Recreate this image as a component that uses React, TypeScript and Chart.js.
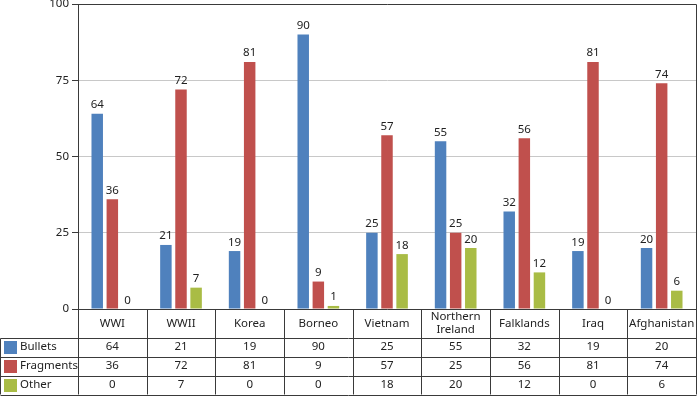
import React, { useEffect, useRef } from 'react';
import { Chart, registerables } from 'chart.js';
Chart.register(...registerables);

const categories: (string | string[])[] = ['WWI', 'WWII', 'Korea', 'Borneo', 'Vietnam', ['Northern', 'Ireland'], 'Falklands', 'Iraq', 'Afghanistan'];
const bullets = [64, 21, 19, 90, 25, 55, 32, 19, 20];
const fragments = [36, 72, 81, 9, 57, 25, 56, 81, 74];
const other = [0, 7, 0, 1, 18, 20, 12, 0, 6];
const tableBullets = [64, 21, 19, 90, 25, 55, 32, 19, 20];
const tableFragments = [36, 72, 81, 9, 57, 25, 56, 81, 74];
const tableOther = [0, 7, 0, 0, 18, 20, 12, 0, 6];
const seriesNames = ['Bullets', 'Fragments', 'Other'];
const colors = ['#4F81BD', '#C0504D', '#A9BC45'];
const yTicks = [0, 25, 50, 75, 100];

const FONT = '"Noto Sans", "DejaVu Sans", sans-serif';
const FS = 11.5;
const LINE = '#3a3a3a';

const overlayPlugin = {
  id: 'overlay',
  afterDraw(chart: any) {
    const ctx = chart.ctx as CanvasRenderingContext2D;
    const area = chart.chartArea;
    const xs = chart.scales.x;
    const n = categories.length;
    const colW = (area.right - area.left) / n;
    const H = chart.height;
    const top = Math.round(area.top) + 0.5;
    const right = Math.round(area.right) + 0.5;
    const bottom = Math.round(area.bottom) + 0.5;
    const headerBottom = bottom + 28;
    const tableBottom = H - 1.5;
    const rowH = (tableBottom - headerBottom) / 3;
    ctx.save();
    // data labels
    ctx.font = `${FS}px ${FONT}`;
    ctx.fillStyle = '#222';
    ctx.textAlign = 'center';
    ctx.textBaseline = 'bottom';
    chart.data.datasets.forEach((ds: any, di: number) => {
      const meta = chart.getDatasetMeta(di);
      meta.data.forEach((el: any, i: number) => {
        ctx.fillText(String(ds.data[i]), el.x, el.y - 3);
      });
    });
    // borders
    ctx.strokeStyle = LINE;
    ctx.lineWidth = 1;
    ctx.beginPath();
    ctx.moveTo(Math.round(area.left) + 0.5, top);
    ctx.lineTo(right, top);
    ctx.lineTo(right, tableBottom);
    // table horizontal lines
    ctx.moveTo(Math.round(area.left), bottom);
    ctx.lineTo(right, bottom);
    for (let r = 0; r <= 3; r++) {
      const y = Math.round(headerBottom + r * rowH) + 0.5;
      ctx.moveTo(0.5, y);
      ctx.lineTo(right, y);
    }
    ctx.moveTo(0.5, Math.round(headerBottom) + 0.5);
    ctx.lineTo(0.5, tableBottom);
    for (let i = 0; i < n; i++) {
      const bx = Math.round(area.left + i * colW) + 0.5;
      ctx.moveTo(bx, bottom);
      ctx.lineTo(bx, tableBottom);
    }
    ctx.stroke();
    // header text
    ctx.fillStyle = '#222';
    ctx.textBaseline = 'middle';
    ctx.textAlign = 'center';
    categories.forEach((c, i) => {
      const cx = xs.getPixelForValue(i);
      const lines = Array.isArray(c) ? c : [c];
      const lh = 13;
      const cy = (bottom + headerBottom) / 2 - ((lines.length - 1) * lh) / 2;
      lines.forEach((t, k) => ctx.fillText(t, cx, cy + k * lh));
    });
    const tables = [tableBullets, tableFragments, tableOther];
    tables.forEach((row, r) => {
      const cy = headerBottom + (r + 0.5) * rowH;
      row.forEach((v, i) => {
        ctx.fillText(String(v), xs.getPixelForValue(i), cy);
      });
      // legend
      ctx.fillStyle = colors[r];
      ctx.fillRect(4, Math.round(cy - 6.5), 13, 13);
      ctx.fillStyle = '#222';
      ctx.textAlign = 'left';
      ctx.fillText(seriesNames[r], 20, cy);
      ctx.textAlign = 'center';
    });
    ctx.restore();
  },
};

export default function App() {
  const ref = useRef<HTMLCanvasElement>(null);
  useEffect(() => {
    document.body.style.margin = '0';
    const chart = new Chart(ref.current!, {
      type: 'bar',
      data: {
        labels: categories as any,
        datasets: [
          { label: seriesNames[0], data: bullets, backgroundColor: colors[0] },
          { label: seriesNames[1], data: fragments, backgroundColor: colors[1] },
          { label: seriesNames[2], data: other, backgroundColor: colors[2] },
        ],
      },
      options: {
        responsive: false,
        animation: false,
        layout: { padding: { top: 4, right: 1, bottom: 87, left: 0 } },
        datasets: { bar: { categoryPercentage: 0.66, barPercentage: 0.76 } },
        plugins: { legend: { display: false }, tooltip: { enabled: false } },
        scales: {
          x: { display: false, grid: { display: false } },
          y: {
            min: 0,
            max: 100,
            afterBuildTicks: (s: any) => { s.ticks = yTicks.map((v) => ({ value: v })); },
            afterFit: (s: any) => { s.width = 78; s.paddingTop = 0; s.paddingBottom = 0; },
            ticks: { font: { family: FONT, size: FS }, color: '#222', padding: 3 },
            grid: { color: '#c8c8c8', tickColor: LINE, tickLength: 6 },
            border: { display: true, color: LINE },
          },
        },
      },
      plugins: [overlayPlugin],
    });
    return () => chart.destroy();
  }, []);
  return <canvas ref={ref} width={697} height={396} style={{ display: 'block' }} />;
}
